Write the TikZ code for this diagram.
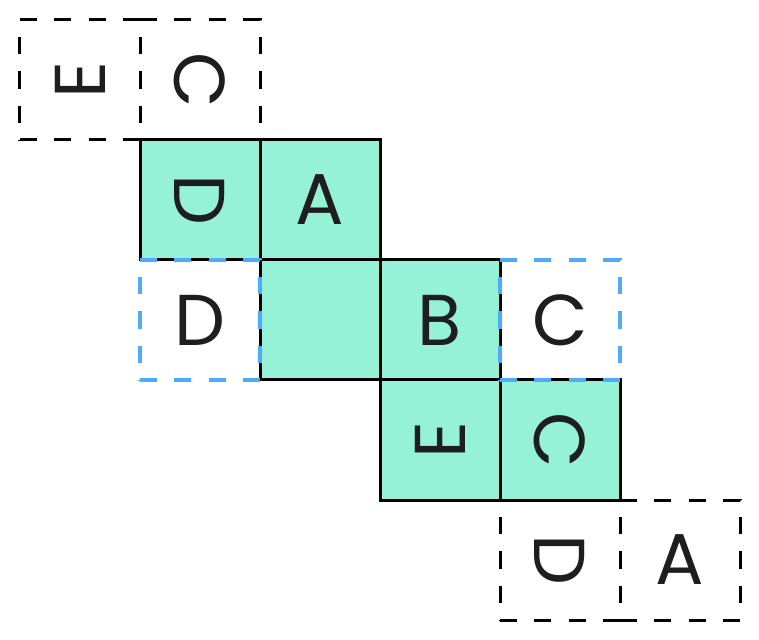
\documentclass[tikz,border=0pt]{standalone}
\usepackage{fontspec}
\setmainfont{Poppins}
\usepackage{tikz}
\usetikzlibrary{positioning}
\definecolor{mint}{HTML}{96F2D7}
\definecolor{dashblue}{HTML}{4DABF7}
\definecolor{ink}{HTML}{1E1E1E}

\begin{document}
\begin{tikzpicture}[x=60pt, y=-60pt,
        cell/.style={draw=black, line width=1.5pt, minimum size=60pt, inner sep=0pt, text=ink, font=\fontsize{36}{36}\selectfont},
        filled/.style={cell, fill=mint},
        ghost/.style={cell, dash pattern=on 8.571pt off 8.571pt},
        blueghost/.style={ghost, draw=dashblue, line width=1.7pt}]
    \useasboundingbox (-1/6, -1/6) rectangle (739/120, 31/6);

    % filled cells
    \node[filled] (dtop) at (1.5, 1.5) {\rotatebox{-90}{D}};
    \node[filled] (atop) at (2.5, 1.5) {A};
    \node[filled] (blank) at (2.5, 2.5) {};
    \node[filled] (bmid) at (3.5, 2.5) {B};
    \node[filled] (elow) at (3.5, 3.5) {\rotatebox{90}{E}};
    \node[filled] (clow) at (4.5, 3.5) {\rotatebox{-90}{C}};

    % dashed cells
    \node[ghost] (eout) at (0.5, 0.5) {\rotatebox{90}{E}};
    \node[ghost] (cout) at (1.5, 0.5) {\rotatebox{-90}{C}};
    \node[ghost] (dout) at (4.5, 4.5) {\rotatebox{-90}{D}};
    \node[ghost] (aout) at (5.5, 4.5) {A};

    % blue dashed cells
    \node[blueghost] (dside) at (1.5, 2.5) {D};
    \node[blueghost] (cside) at (4.5, 2.5) {C};
\end{tikzpicture}
\end{document}
